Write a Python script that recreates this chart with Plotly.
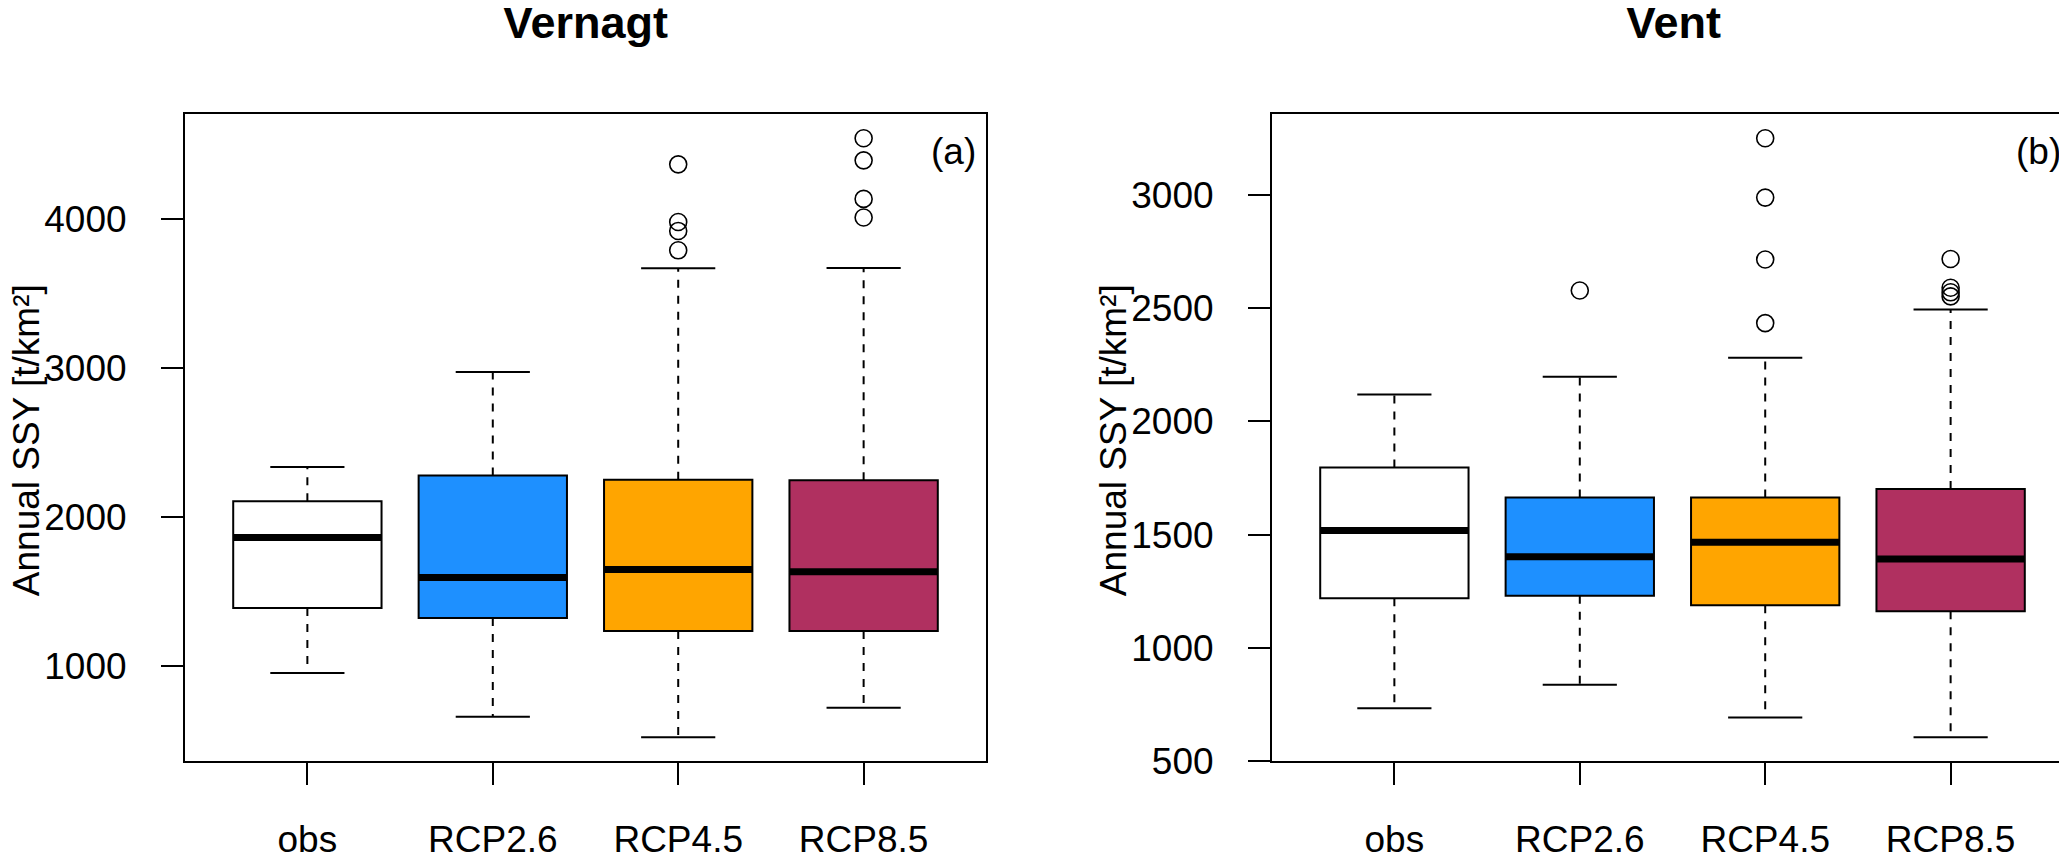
import plotly.graph_objects as go

# categories and box statistics
groups = ["obs", "RCP2.6", "RCP4.5", "RCP8.5"]
colors = ["#FFFFFF", "#1E90FF", "#FFA500", "#B03060"]

# Vernagt
vernagt_lower = [950, 656, 520, 717]
vernagt_q1 = [1387, 1319, 1233, 1233]
vernagt_median = [1860, 1591, 1645, 1631]
vernagt_q3 = [2104, 2276, 2247, 2244]
vernagt_upper = [2333, 2971, 3667, 3670]
vernagt_outliers = [[], [], [4365, 3978, 3918, 3788], [4540, 4392, 4133, 4008]]

# Vent
vent_lower = [733, 837, 693, 606]
vent_q1 = [1219, 1230, 1188, 1162]
vent_median = [1518, 1402, 1466, 1393]
vent_q3 = [1796, 1664, 1664, 1702]
vent_upper = [2119, 2197, 2281, 2494]
vent_outliers = [[], [2578], [3250, 2988, 2715, 2434], [2717, 2590, 2570, 2552]]

W, H = 2067, 857
FONT = "Liberation Sans, Arial, sans-serif"
positions = [1, 2, 3, 4]

fig = go.Figure()


def add_panel(fig, xa, ya, lower, q1, med, q3, upper, outliers):
    for i, p in enumerate(positions):
        fig.add_trace(go.Box(x=[p], q1=[q1[i]], median=[med[i]], q3=[q3[i]],
                             lowerfence=[q1[i]], upperfence=[q3[i]],
                             width=0.8, fillcolor=colors[i],
                             line=dict(color="black", width=2),
                             xaxis=xa, yaxis=ya, showlegend=False,
                             hoverinfo="skip"))
        # dashed whiskers
        fig.add_trace(go.Scatter(x=[p, p, None, p, p],
                                 y=[q3[i], upper[i], None, q1[i], lower[i]],
                                 mode="lines", line=dict(color="black", width=2, dash="8px,8px"),
                                 xaxis=xa, yaxis=ya, showlegend=False, hoverinfo="skip"))
        # whisker caps
        fig.add_trace(go.Scatter(x=[p - 0.2, p + 0.2, None, p - 0.2, p + 0.2],
                                 y=[upper[i], upper[i], None, lower[i], lower[i]],
                                 mode="lines", line=dict(color="black", width=2),
                                 xaxis=xa, yaxis=ya, showlegend=False, hoverinfo="skip"))
        # thick median
        fig.add_trace(go.Scatter(x=[p - 0.4, p + 0.4], y=[med[i], med[i]],
                                 mode="lines", line=dict(color="black", width=7),
                                 xaxis=xa, yaxis=ya, showlegend=False, hoverinfo="skip"))
        if outliers[i]:
            fig.add_trace(go.Scatter(x=[p] * len(outliers[i]), y=outliers[i], mode="markers",
                                     marker=dict(symbol="circle-open", size=17,
                                                 color="black", line=dict(width=1.6)),
                                     xaxis=xa, yaxis=ya, showlegend=False, hoverinfo="skip"))


add_panel(fig, "x", "y", vernagt_lower, vernagt_q1, vernagt_median, vernagt_q3,
          vernagt_upper, vernagt_outliers)
add_panel(fig, "x2", "y2", vent_lower, vent_q1, vent_median, vent_q3,
          vent_upper, vent_outliers)


def yrange(lower, upper, outliers):
    lo = min(lower)
    hi = max(upper + [v for o in outliers for v in o])
    pad = 0.04 * (hi - lo)
    return [lo - pad, hi + pad]


axis_common = dict(showline=True, mirror=True, linecolor="black", linewidth=2,
                   ticks="outside", ticklen=22, tickwidth=2, tickcolor="black",
                   showgrid=False, zeroline=False,
                   tickfont=dict(family=FONT, size=37, color="black"))

ydom = [(H - 772) / H, (H - 109) / H]

fig.update_layout(
    width=W, height=H,
    margin=dict(l=0, r=0, t=0, b=0),
    plot_bgcolor="white", paper_bgcolor="white",
    xaxis=dict(domain=[177 / W, 978 / W], range=[0.34, 4.66], tickvals=positions,
               ticktext=groups, ticklabelstandoff=23, **axis_common),
    yaxis=dict(domain=ydom, range=yrange(vernagt_lower, vernagt_upper, vernagt_outliers),
               tickvals=[1000, 2000, 3000, 4000], ticklabelstandoff=27, **axis_common),
    xaxis2=dict(domain=[1264 / W, 2065 / W], range=[0.34, 4.66], tickvals=positions,
                ticktext=groups, ticklabelstandoff=23, anchor="y2", **axis_common),
    yaxis2=dict(domain=ydom, range=yrange(vent_lower, vent_upper, vent_outliers),
                tickvals=[500, 1000, 1500, 2000, 2500, 3000], ticklabelstandoff=27,
                anchor="x2", **axis_common),
)

title_font = dict(family=FONT, size=45, color="black")
label_font = dict(family=FONT, size=37, color="black")
fig.add_annotation(text="<b>Vernagt</b>", x=(177 + 978) / 2 / W, y=1 - 15 / H,
                   xref="paper", yref="paper", showarrow=False, font=title_font,
                   xanchor="center", yanchor="middle")
fig.add_annotation(text="<b>Vent</b>", x=(1264 + 2066) / 2 / W, y=1 - 15 / H,
                   xref="paper", yref="paper", showarrow=False, font=title_font,
                   xanchor="center", yanchor="middle")
fig.add_annotation(text="(a)", x=0.99, y=0.943, xref="x domain", yref="y domain",
                   showarrow=False, font=label_font, xanchor="right", yanchor="middle")
fig.add_annotation(text="(b)", x=0.9875, y=0.943, xref="x2 domain", yref="y2 domain",
                   showarrow=False, font=label_font, xanchor="right", yanchor="middle")
fig.add_annotation(text="Annual SSY [t/km²]", x=18 / W, y=(H - 443) / H,
                   xref="paper", yref="paper", showarrow=False, font=label_font,
                   textangle=-90, xanchor="center", yanchor="middle")
fig.add_annotation(text="Annual SSY [t/km²]", x=1105 / W, y=(H - 443) / H,
                   xref="paper", yref="paper", showarrow=False, font=label_font,
                   textangle=-90, xanchor="center", yanchor="middle")

fig.write_html("out.html")
